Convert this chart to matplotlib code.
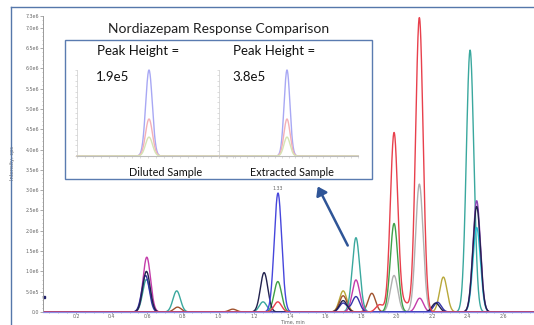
import numpy as np
import matplotlib
matplotlib.use("Agg")
import matplotlib.pyplot as plt
from matplotlib.patches import Rectangle, FancyArrowPatch
from matplotlib.ticker import MultipleLocator, FixedLocator

W, H = 534, 325

# chromatogram traces: colour, retention times (min), peak heights (cps)
red_rt = [1.333, 1.905, 1.986, 2.05, 2.128]
red_h = [0.25e6, 0.18e6, 4.42e6, 0.2e6, 7.25e6]
green_rt = [1.333, 1.986]
green_h = [0.75e6, 2.18e6]
gray_rt = [1.986, 2.128]
gray_h = [0.9e6, 3.15e6]
teal_rt = [0.595, 0.765, 1.25, 1.772, 2.413]
teal_h = [0.8e6, 0.52e6, 0.25e6, 1.83e6, 6.45e6]
navy_rt = [0.595, 1.256, 1.70, 2.22, 2.45]
navy_h = [1.0e6, 0.97e6, 0.28e6, 0.22e6, 2.6e6]
magenta_rt = [0.597, 1.772, 2.13]
magenta_h = [1.35e6, 0.79e6, 0.34e6]
purple_rt = [2.45]
purple_h = [2.74e6]
cyan_rt = [2.45]
cyan_h = [2.08e6]
brown_rt = [0.77, 1.08, 1.70, 1.861]
brown_h = [0.12e6, 0.07e6, 0.4e6, 0.46e6]
olive_rt = [1.70, 2.263]
olive_h = [0.52e6, 0.86e6]
dblue_rt = [0.59, 1.70, 1.772, 2.23]
dblue_h = [0.9e6, 0.22e6, 0.38e6, 0.24e6]
blue_rt = [1.334]
blue_h = [2.93e6]

traces = [
    ("#b0b0b0", gray_rt, gray_h),
    ("#b8a83a", olive_rt, olive_h),
    ("#a0522d", brown_rt, brown_h),
    ("#3fa048", green_rt, green_h),
    ("#3aa89e", teal_rt, teal_h),
    ("#22c4d6", cyan_rt, cyan_h),
    ("#c43caa", magenta_rt, magenta_h),
    ("#8a44b4", purple_rt, purple_h),
    ("#3434a8", dblue_rt, dblue_h),
    ("#22224e", navy_rt, navy_h),
    ("#4646dc", blue_rt, blue_h),
    ("#e8404c", red_rt, red_h),
]

# inset (Nordiazepam) peak heights
inset_titles = ["Diluted Sample", "Extracted Sample"]
inset_heights = ["1.9e5", "3.8e5"]
inset_blue = [1.9e5, 3.8e5]
inset_ratio_red = 0.43
inset_ratio_green = 0.22

y_ticks = [0, 0.5e6, 1.0e6, 1.5e6, 2.0e6, 2.5e6, 3.0e6, 3.5e6, 4.0e6,
           4.5e6, 5.0e6, 5.5e6, 6.0e6, 6.5e6, 7.0e6, 7.3e6]
y_labels = ["0.0", "5.0e5", "1.0e6", "1.5e6", "2.0e6", "2.5e6", "3.0e6",
            "3.5e6", "4.0e6", "4.5e6", "5.0e6", "5.5e6", "6.0e6", "6.5e6",
            "7.0e6", "7.3e6"]
x_ticks = [0.2, 0.4, 0.6, 0.8, 1.0, 1.2, 1.4, 1.6, 1.8, 2.0, 2.2, 2.4, 2.6]

SIGMA = 0.021


def fx(px):
    return px / W


def fy(py):
    return 1 - py / H


def peaks(t, rts, hs, sigma):
    y = np.zeros_like(t)
    for rt, h in zip(rts, hs):
        y += h * np.exp(-0.5 * ((t - rt) / sigma) ** 2)
    return y


plt.rcParams["font.family"] = ["Lato", "DejaVu Sans"]
fig = plt.figure(figsize=(W / 100, H / 100), dpi=100)
fig.patch.set_facecolor("white")
small = dict(family="DejaVu Sans", size=3.4)

# main chromatogram
ax_bottom = 312
ax_top = 15.6
ax = fig.add_axes([fx(43), fy(ax_bottom), fx(534) - fx(43), fy(ax_top) - fy(ax_bottom)])
t = np.linspace(0.0, 2.8, 4000)
for color, rts, hs in traces:
    ax.plot(t, peaks(t, rts, hs, SIGMA), color=color, lw=1.0)
ax.set_xlim(0.014, 2.772)
ax.set_ylim(0, 7.3e6)
for s in ["top", "right"]:
    ax.spines[s].set_visible(False)
ax.spines["left"].set_color("#9a9a9a")
ax.spines["left"].set_linewidth(0.7)
ax.spines["bottom"].set_color("#8c8ce6")
ax.spines["bottom"].set_linewidth(0.9)
ax.yaxis.set_major_locator(FixedLocator(y_ticks))
ax.set_yticklabels(y_labels, fontdict=small)
ax.yaxis.set_minor_locator(MultipleLocator(1e5))
ax.xaxis.set_major_locator(FixedLocator(x_ticks))
ax.set_xticklabels([f"{v:.1f}" for v in x_ticks], fontdict=small)
ax.xaxis.set_minor_locator(MultipleLocator(0.05))
ax.tick_params(axis="both", which="major", colors="#8a8a8a",
               labelcolor="#666666", length=2, width=0.5, pad=1)
ax.tick_params(axis="x", which="major", length=1.5, pad=0.2)
ax.tick_params(axis="both", which="minor", colors="#9a9a9a", length=1.0, width=0.4)
ax.set_xlabel("Time, min", family="DejaVu Sans", fontsize=3.4, color="#666666", va="center")
span = ax_bottom - ax_top
ax.xaxis.set_label_coords((293 - 43) / (534 - 43), -(322.0 - ax_bottom) / span)
ax.set_ylabel("Intensity, cps", family="DejaVu Sans", fontsize=3.6, color="#666666")
ax.yaxis.set_label_coords((15 - 43) / (534 - 43), (ax_bottom - 163) / span)
ax.plot([0.02], [3.7e5], marker="s", ms=2, color="#20206a", clip_on=False)
ax.text(1.334, 2.97e6, "1.33", color="#666666", ha="center", va="bottom", **small)

# slide frame
fig.add_artist(plt.Line2D([fx(11), fx(11)], [0, fy(6.5)], color="#5577aa", lw=1.0))
fig.add_artist(plt.Line2D([fx(11), 1], [fy(6.5), fy(6.5)], color="#5577aa", lw=1.0))

# inset box
fig.add_artist(Rectangle((fx(65), fy(179)), fx(372) - fx(65), fy(40) - fy(179),
                         transform=fig.transFigure, facecolor="white",
                         edgecolor="#5a7bb0", lw=1.0, zorder=2))
fig.text(fx(219), fy(29), "Nordiazepam Response Comparison", fontsize=10,
         ha="center", va="center", color="#202020", zorder=4)

# panel: left px, right px, peak px, text left px, caption centre px
panels = [(77, 235, 149, 97, 166), (219, 358, 287, 233, 292)]
ti = np.linspace(0, 1, 600)
for i, (x0, x1, xp, xt, xc) in enumerate(panels):
    axi = fig.add_axes([fx(x0), fy(156), fx(x1) - fx(x0), fy(70) - fy(156)])
    axi.set_zorder(3)
    axi.patch.set_alpha(0)
    pc = (xp - x0) / (x1 - x0)
    hb = inset_blue[i]
    axi.plot(ti, peaks(ti, [pc], [hb], 0.021), color="#a8a8f4", lw=1.0, clip_on=False)
    axi.plot(ti, peaks(ti, [pc], [hb * inset_ratio_red], 0.022), color="#f4b0b6", lw=1.0, clip_on=False)
    axi.plot(ti, peaks(ti, [pc], [hb * inset_ratio_green], 0.022), color="#d6e4b4", lw=1.0, clip_on=False)
    axi.set_xlim(0, 1)
    axi.set_ylim(0, hb)
    for s in ["top", "right"]:
        axi.spines[s].set_visible(False)
    axi.spines["left"].set_color("#cccccc")
    axi.spines["left"].set_linewidth(0.5)
    axi.spines["bottom"].set_color("#bbbbbb")
    axi.spines["bottom"].set_linewidth(0.8)
    axi.spines["bottom"].set_linestyle((0, (3, 1)))
    axi.xaxis.set_major_locator(MultipleLocator(0.05))
    axi.yaxis.set_major_locator(MultipleLocator(hb / 16))
    axi.tick_params(axis="both", length=1.3, width=0.4, colors="#c4c4c4",
                    labelleft=False, labelbottom=False)
    fig.text(fx(xt), fy(51), "Peak Height =", fontsize=9.5, ha="left",
             va="center", color="#111111", zorder=4)
    fig.text(fx(xt - 1), fy(77), inset_heights[i], fontsize=9.5, ha="left",
             va="center", color="#111111", zorder=4)
    fig.text(fx(xc), fy(172), inset_titles[i], fontsize=7.8,
             ha="center", va="center", color="#111111", zorder=4)

# arrow pointing at the inset
fig.add_artist(FancyArrowPatch((fx(349), fy(248)), (fx(316.5), fy(184)),
                               transform=fig.transFigure, arrowstyle="-|>,head_length=5,head_width=3.5",
                               color="#2f5597", lw=1.8, zorder=4))

fig.savefig("out.png", dpi=100, facecolor="white")
